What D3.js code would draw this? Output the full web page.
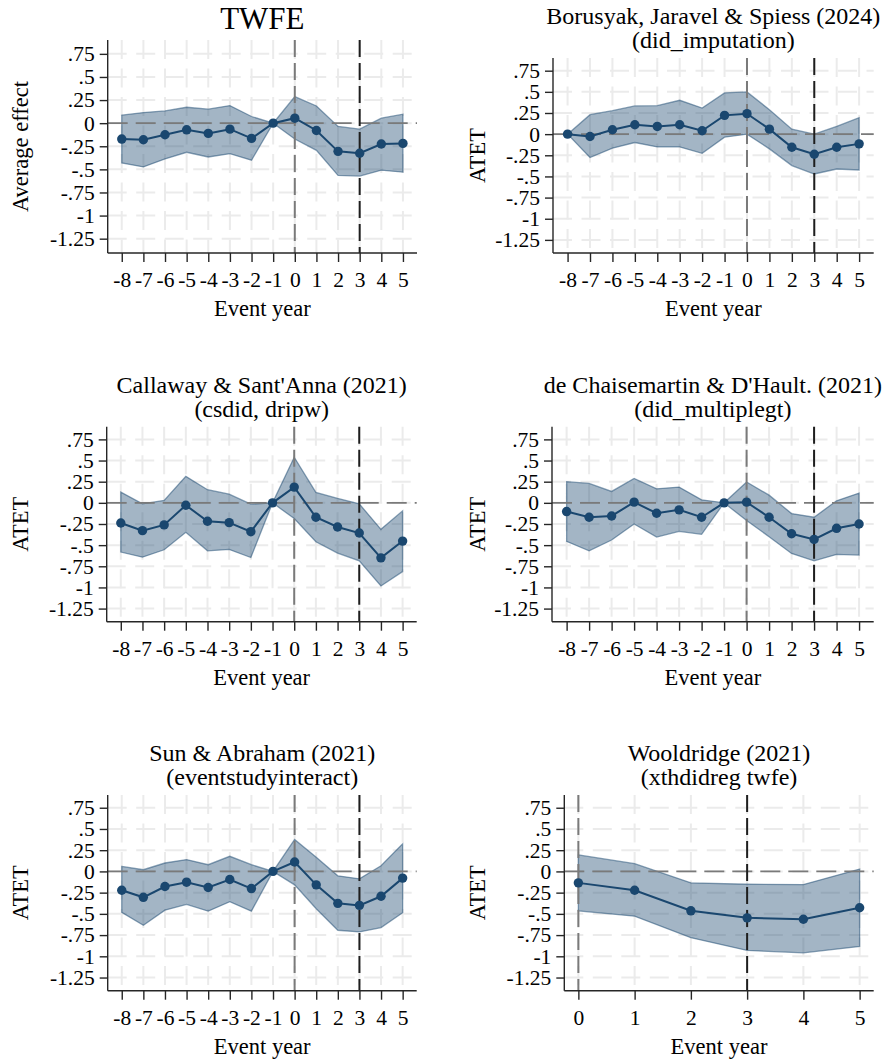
<!DOCTYPE html>
<html>
<head>
<meta charset="utf-8">
<script src="https://cdn.jsdelivr.net/npm/d3@7"></script>
<style>
  html, body { margin: 0; padding: 0; background: #fff; }
  svg text { font-family: "Liberation Serif", "Times New Roman", serif; fill: #000; }
</style>
</head>
<body>
<svg id="chart" width="884" height="1059"></svg>
<script>
// ---------------- data ----------------
const eventYears = [-8, -7, -6, -5, -4, -3, -2, -1, 0, 1, 2, 3, 4, 5];
const postYears = [0, 1, 2, 3, 4, 5];
const yTickValues = [0.75, 0.5, 0.25, 0, -0.25, -0.5, -0.75, -1, -1.25];
const yTickLabels = [".75", ".5", ".25", "0", "-.25", "-.5", "-.75", "-1", "-1.25"];
const xTickLabels = ["-8", "-7", "-6", "-5", "-4", "-3", "-2", "-1", "0", "1", "2", "3", "4", "5"];
const postTickLabels = ["0", "1", "2", "3", "4", "5"];

const panelTitles = [
  ["TWFE"],
  ["Borusyak, Jaravel & Spiess (2024)", "(did_imputation)"],
  ["Callaway & Sant'Anna (2021)", "(csdid, dripw)"],
  ["de Chaisemartin & D'Hault. (2021)", "(did_multiplegt)"],
  ["Sun & Abraham (2021)", "(eventstudyinteract)"],
  ["Wooldridge (2021)", "(xthdidreg twfe)"]
];
const yAxisTitles = ["Average effect", "ATET", "ATET", "ATET", "ATET", "ATET"];
const xAxisTitle = "Event year";

// TWFE
const twfeEst   = [-0.172, -0.179, -0.125, -0.072, -0.111, -0.065, -0.165, 0, 0.054, -0.079, -0.305, -0.326, -0.226, -0.219];
const twfeUpper = [0.086, 0.115, 0.133, 0.172, 0.151, 0.19, 0.072, 0, 0.287, 0.186, -0.036, -0.065, 0.054, 0.097];
const twfeLower = [-0.43, -0.473, -0.387, -0.315, -0.366, -0.33, -0.401, 0, -0.172, -0.294, -0.566, -0.573, -0.509, -0.53];
// Borusyak, Jaravel & Spiess
const bjsEst   = [0, -0.028, 0.052, 0.111, 0.091, 0.111, 0.04, 0.222, 0.242, 0.059, -0.155, -0.238, -0.155, -0.115];
const bjsUpper = [0, 0.23, 0.277, 0.333, 0.337, 0.4, 0.309, 0.487, 0.499, 0.289, 0.059, 0, 0.091, 0.194];
const bjsLower = [0, -0.277, -0.166, -0.099, -0.151, -0.151, -0.226, -0.036, 0, -0.174, -0.372, -0.471, -0.412, -0.424];
// Callaway & Sant'Anna
const csEst   = [-0.238, -0.329, -0.261, -0.028, -0.218, -0.234, -0.341, 0, 0.186, -0.17, -0.285, -0.357, -0.65, -0.452];
const csUpper = [0.127, -0.012, 0.028, 0.313, 0.155, 0.103, -0.016, 0, 0.539, 0.123, 0.052, -0.012, -0.313, -0.095];
const csLower = [-0.582, -0.642, -0.555, -0.349, -0.567, -0.551, -0.646, 0, -0.186, -0.46, -0.594, -0.685, -0.983, -0.812];
// de Chaisemartin & D'Haultfoeuille
const dcdhEst   = [-0.103, -0.17, -0.155, 0.008, -0.123, -0.083, -0.17, 0, 0.008, -0.17, -0.365, -0.432, -0.301, -0.25];
const dcdhUpper = [0.25, 0.23, 0.135, 0.289, 0.166, 0.186, 0.036, 0, 0.246, 0.091, -0.127, -0.17, 0.024, 0.115];
const dcdhLower = [-0.456, -0.567, -0.44, -0.25, -0.404, -0.337, -0.372, 0, -0.21, -0.4, -0.598, -0.685, -0.61, -0.618];
// Sun & Abraham
const saEst   = [-0.222, -0.305, -0.178, -0.127, -0.19, -0.095, -0.202, 0, 0.111, -0.158, -0.376, -0.4, -0.293, -0.079];
const saUpper = [0.059, 0.02, 0.099, 0.139, 0.079, 0.178, 0.079, 0, 0.376, 0.166, -0.052, -0.087, 0.067, 0.325];
const saLower = [-0.483, -0.634, -0.456, -0.388, -0.468, -0.357, -0.468, 0, -0.158, -0.44, -0.693, -0.713, -0.662, -0.487];
// Wooldridge
const wEst   = [-0.135, -0.222, -0.464, -0.547, -0.563, -0.428];
const wUpper = [0.194, 0.091, -0.135, -0.151, -0.155, 0.028];
const wLower = [-0.464, -0.527, -0.78, -0.931, -0.959, -0.884];

const refLinesX = [0, 3];   // grey at 0, black at 3

// ---------------- layout ----------------
const panels = [
  { x0: 107.7, x1: 417,   yTop: 40,    yBot: 253,   xDom: [-8.65, 5.65], years: eventYears, xLabels: xTickLabels, est: twfeEst, up: twfeUpper, lo: twfeLower },
  { x0: 553,   x1: 873.7, yTop: 58,    yBot: 253,   xDom: [-8.65, 5.65], years: eventYears, xLabels: xTickLabels, est: bjsEst,  up: bjsUpper,  lo: bjsLower },
  { x0: 106.7, x1: 416.7, yTop: 426.7, yBot: 621.7, xDom: [-8.65, 5.65], years: eventYears, xLabels: xTickLabels, est: csEst,   up: csUpper,   lo: csLower },
  { x0: 552,   x1: 873.7, yTop: 426.7, yBot: 621.7, xDom: [-8.65, 5.65], years: eventYears, xLabels: xTickLabels, est: dcdhEst, up: dcdhUpper, lo: dcdhLower },
  { x0: 107.7, x1: 416.7, yTop: 795,   yBot: 990.7, xDom: [-8.65, 5.65], years: eventYears, xLabels: xTickLabels, est: saEst,   up: saUpper,   lo: saLower },
  { x0: 564.3, x1: 873.7, yTop: 795,   yBot: 990.7, xDom: [-0.25, 5.25], years: postYears,  xLabels: postTickLabels, est: wEst, up: wUpper, lo: wLower }
];
const yDom = [-1.405, 0.9];
const navy = "#1a476f";
const svg = d3.select("#chart");

panels.forEach((p, i) => {
  const g = svg.append("g");
  const x = d3.scaleLinear().domain(p.xDom).range([p.x0, p.x1]);
  const y = d3.scaleLinear().domain(yDom).range([p.yBot, p.yTop]);
  const rows = p.years.map((yr, k) => ({ yr, est: p.est[k], up: p.up[k], lo: p.lo[k] }));

  // gridlines
  const grid = g.append("g").attr("stroke", "#ebebeb").attr("stroke-width", 2).attr("stroke-dasharray", "19,9.5").attr("fill", "none");
  yTickValues.forEach(v => {
    grid.append("line").attr("x1", p.x0).attr("x2", p.x1).attr("y1", y(v)).attr("y2", y(v));
  });
  p.years.forEach(v => {
    grid.append("line").attr("x1", x(v)).attr("x2", x(v)).attr("y1", p.yTop).attr("y2", p.yBot);
  });

  // confidence band
  const area = d3.area().x(d => x(d.yr)).y0(d => y(d.lo)).y1(d => y(d.up));
  g.append("path").datum(rows).attr("d", area)
    .attr("fill", navy).attr("fill-opacity", 0.4)
    .attr("stroke", navy).attr("stroke-opacity", 0.5).attr("stroke-width", 1.3);

  // reference lines
  g.append("line").attr("x1", p.x0).attr("x2", p.x1).attr("y1", y(0)).attr("y2", y(0))
    .attr("stroke", "#7a7a7a").attr("stroke-width", 1.8).attr("stroke-dasharray", "20,8");
  refLinesX.forEach((v, k) => {
    g.append("line").attr("x1", x(v)).attr("x2", x(v)).attr("y1", p.yTop).attr("y2", p.yBot)
      .attr("stroke", k === 0 ? "#7a7a7a" : "#1e1e1e").attr("stroke-width", 2).attr("stroke-dasharray", "17,6");
  });

  // series line + markers
  const line = d3.line().x(d => x(d.yr)).y(d => y(d.est));
  g.append("path").datum(rows).attr("d", line).attr("fill", "none").attr("stroke", navy).attr("stroke-width", 2);
  g.selectAll("circle.pt").data(rows).join("circle").attr("class", "pt")
    .attr("cx", d => x(d.yr)).attr("cy", d => y(d.est)).attr("r", 4.7).attr("fill", navy);

  // axes
  const yAxis = d3.axisLeft(y).tickValues(yTickValues).tickSize(8).tickPadding(5)
    .tickFormat((d, k) => yTickLabels[k]);
  const ya = g.append("g").attr("transform", `translate(${p.x0},0)`).call(yAxis);
  ya.select(".domain").attr("d", `M0,${p.yTop}V${p.yBot}`);
  const xAxis = d3.axisBottom(x).tickValues(p.years).tickSize(9).tickPadding(10)
    .tickFormat((d, k) => p.xLabels[k]);
  const xa = g.append("g").attr("transform", `translate(0,${p.yBot})`).call(xAxis);
  xa.select(".domain").attr("d", `M${p.x0},0H${p.x1}`);
  [ya, xa].forEach(a => {
    a.selectAll(".domain, .tick line").attr("stroke", "#262626").attr("stroke-width", 1.4);
    a.selectAll("text").attr("font-size", 21.5).attr("font-family", "Liberation Serif").attr("fill", "#000");
  });

  // titles
  const cx = (p.x0 + p.x1) / 2;
  if (panelTitles[i].length === 1) {
    g.append("text").attr("x", cx).attr("y", 29).attr("text-anchor", "middle").attr("font-size", 31).text(panelTitles[i][0]);
  } else {
    const base = p.yTop - 34;
    panelTitles[i].forEach((t, k) => {
      g.append("text").attr("x", cx).attr("y", base + k * 24.3).attr("text-anchor", "middle").attr("font-size", 24).text(t);
    });
  }
  // axis titles
  g.append("text").attr("x", cx).attr("y", p.yBot + 63).attr("text-anchor", "middle").attr("font-size", 22.5).text(xAxisTitle);
  const yx = i % 2 === 0 ? 28 : 485;
  g.append("text").attr("transform", `translate(${yx},${(p.yTop + p.yBot) / 2}) rotate(-90)`)
    .attr("text-anchor", "middle").attr("font-size", 22.5).text(yAxisTitles[i]);
});
</script>
</body>
</html>
